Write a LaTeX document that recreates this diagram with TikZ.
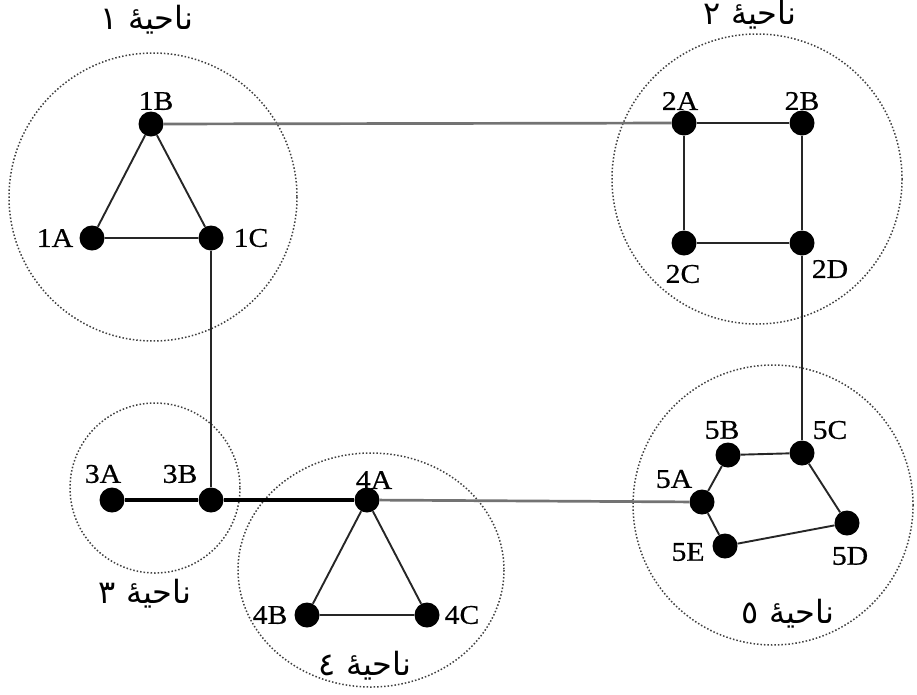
\documentclass[tikz,border=0pt]{standalone}
\usepackage{fontspec}
\setmainfont{Liberation Serif}
\newfontfamily\labfont[FakeStretch=1.1,FakeBold=0.6]{Liberation Serif}
\newfontfamily\arabicfont[Script=Arabic]{DejaVu Sans}
\TeXXeTstate=1
\begin{document}
\begin{tikzpicture}[x=1pt,y=-1pt,
  dot/.style={circle,fill=black,inner sep=0pt,minimum size=25pt},
  lab/.style={font=\labfont\fontsize{27}{27}\selectfont,inner sep=0pt},
  rlab/.style={font=\arabicfont\fontsize{32}{32}\selectfont,inner sep=0pt},
  region/.style={draw=black!75,dotted,line width=1.5pt},
  inner/.style={draw=black!85,line width=1.9pt},
  link/.style={draw=black!55,line width=2.7pt},
  heavy/.style={draw=black,line width=3.5pt}]
\useasboundingbox[fill=white] (0,0) rectangle (917,694);

% regions
\draw[region] (153,197) circle [radius=144];
\draw[region] (757,179) circle [radius=145];
\draw[region] (155,488) circle [radius=85];
\draw[region] (371,570) ellipse [x radius=133,y radius=117];
\draw[region] (773,505) circle [radius=140];

% nodes
\node[dot] (1A) at (92,238) {};
\node[dot] (1B) at (151,124) {};
\node[dot] (1C) at (211,238) {};
\node[dot] (2A) at (684,123) {};
\node[dot] (2B) at (802,123) {};
\node[dot] (2C) at (684,243) {};
\node[dot] (2D) at (802,243) {};
\node[dot] (3A) at (112,500) {};
\node[dot] (3B) at (211,500) {};
\node[dot] (4A) at (367,500) {};
\node[dot] (4B) at (307,615) {};
\node[dot] (4C) at (427,615) {};
\node[dot] (5A) at (702,502) {};
\node[dot] (5B) at (728,455) {};
\node[dot] (5C) at (802,453) {};
\node[dot] (5D) at (847,523) {};
\node[dot] (5E) at (725,546) {};

% labels
\node[lab] (t1A) at (55,238) {1A};
\node[lab] (t1B) at (156,101) {1B};
\node[lab] (t1C) at (251,238) {1C};
\node[lab] (t2A) at (680,101) {2A};
\node[lab] (t2B) at (802,101) {2B};
\node[lab] (t2C) at (683,274) {2C};
\node[lab] (t2D) at (830,269) {2D};
\node[lab] (t3A) at (103,474) {3A};
\node[lab] (t3B) at (180,474) {3B};
\node[lab] (t4A) at (374,480) {4A};
\node[lab] (t4B) at (270,615) {4B};
\node[lab] (t4C) at (462,615) {4C};
\node[lab] (t5A) at (674,479) {5A};
\node[lab] (t5B) at (722,430) {5B};
\node[lab] (t5C) at (830,430) {5C};
\node[lab] (t5D) at (850,556) {5D};
\node[lab] (t5E) at (688,552) {5E};

\node[rlab] (r1) at (147,20) {\beginR ناحيهٔ ١\endR};
\node[rlab] (r2) at (750,15) {\beginR ناحيهٔ ٢\endR};
\node[rlab] (r3) at (145,594) {\beginR ناحيهٔ ٣\endR};
\node[rlab] (r4) at (365,666) {\beginR ناحيهٔ ٤\endR};
\node[rlab] (r5) at (788,614) {\beginR ناحيهٔ ٥\endR};

% connectors
\draw[inner] (1A) -- (1B) -- (1C) -- (1A);
\draw[inner] (2A) -- (2B) -- (2D) -- (2C) -- (2A);
\draw[inner] (4A) -- (4B) -- (4C) -- (4A);
\draw[inner] (5A) -- (5B) -- (5C) -- (5D) -- (5E) -- (5A);
\draw[link] (1B) -- (2A);
\draw[link] (4A) -- (5A);
\draw[inner] (1C) -- (3B);
\draw[inner] (2D) -- (5C);
\draw[heavy] (3A) -- (3B) -- (4A);
\end{tikzpicture}
\end{document}
